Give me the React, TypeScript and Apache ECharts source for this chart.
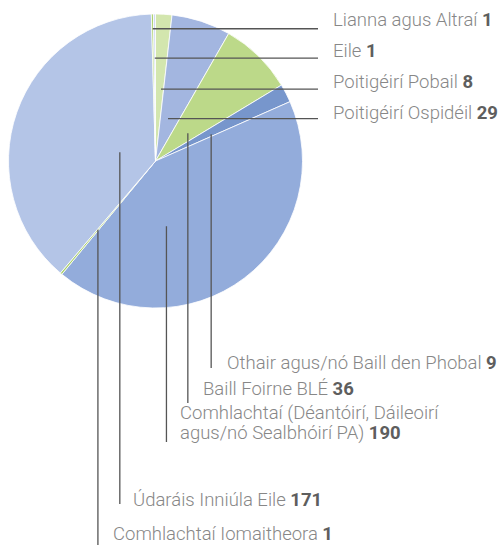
import React, { useEffect, useRef } from "react";
import * as echarts from "echarts";

// Data (clockwise from 12 o'clock)
const categories = [
  "Poitigéirí Pobail",
  "Poitigéirí Ospidéil",
  "Baill Foirne BLÉ",
  "Othair agus/nó Baill den Phobal",
  "Comhlachtaí (Déantóirí, Dáileoirí\nagus/nó Sealbhóirí PA)",
  "Comhlachtaí Iomaitheora",
  "Údaráis Inniúla Eile",
  "Lianna agus Altraí",
  "Eile",
];
const values = [8, 29, 36, 9, 190, 1, 171, 1, 1];

// Styling
const colors = [
  "#d3e6ae",
  "#a3b6e0",
  "#bcd989",
  "#7796cc",
  "#93acdb",
  "#a9d06b",
  "#b4c5e7",
  "#a9d06b",
  "#cfdaf0",
];

const CX = 155.5;
const CY = 161;
const R = 147;

// label layout: text anchor position, leader direction and end
const labelPos: [number, number][] = [
  [333, 82],
  [333, 113],
  [203, 389],
  [227, 363],
  [180, 423],
  [113, 534],
  [133, 500],
  [333, 20],
  [333, 51],
];
const lineDir = ["h", "h", "v", "v", "v", "v", "v", "h", "h"];
const lineEnd = [318, 318, 403, 368, 442, 545, 504, 318, 318];
// where the leader line starts inside each slice: [fraction of slice angle, fraction of radius]
const anchorAt: [number, number][] = [
  [0.68, 0.49],
  [0.43, 0.3],
  [0.67, 0.29],
  [0.75, 0.42],
  [0.68, 0.45],
  [0.5, 0.61],
  [0.46, 0.25],
  [0.5, 0.9],
  [0.5, 0.7],
];

export default function App() {
  const ref = useRef<HTMLDivElement>(null);

  useEffect(() => {
    if (!ref.current) return;
    const chart = echarts.init(ref.current, null, { renderer: "svg" });

    const total = values.reduce((a, b) => a + b, 0);
    let acc = 0;
    const anchors = values.map((v, i) => {
      const a0 = (acc / total) * 360;
      acc += v;
      const a1 = (acc / total) * 360;
      const th = ((a0 + (a1 - a0) * anchorAt[i][0]) * Math.PI) / 180;
      const r = R * anchorAt[i][1];
      return [CX + r * Math.sin(th), CY - r * Math.cos(th)];
    });

    const leaders = anchors.map(([ax, ay], i) => ({
      type: "line",
      silent: true,
      z: 100,
      shape:
        lineDir[i] === "h"
          ? { x1: ax, y1: ay, x2: lineEnd[i], y2: ay }
          : { x1: ax, y1: ay, x2: ax, y2: lineEnd[i] },
      style: { stroke: "#555555", lineWidth: 1.3 },
    }));

    chart.setOption({
      animation: false,
      graphic: leaders,
      series: [
        {
          type: "pie",
          center: [CX, CY],
          radius: R,
          startAngle: 90,
          clockwise: true,
          avoidLabelOverlap: false,
          silent: true,
          data: categories.map((name, i) => ({
            name,
            value: values[i],
            itemStyle: { color: colors[i] },
          })),
          itemStyle: { borderColor: "#ffffff", borderWidth: 0.8 },
          label: {
            show: true,
            position: "outside",
            formatter: (p: any) => {
              const parts = String(p.name).split("\n");
              return parts
                .map((s, k) => `{n|${s}}` + (k === parts.length - 1 ? `{n| }{v|${p.value}}` : ""))
                .join("\n");
            },
            rich: {
              n: {
                fontFamily: "Roboto",
                fontSize: 18.5,
                fontWeight: 300,
                color: "#878787",
                lineHeight: 20,
              },
              v: {
                fontFamily: "Roboto",
                fontSize: 18.5,
                fontWeight: "bold",
                color: "#5e5e5e",
                lineHeight: 20,
              },
            },
          },
          labelLine: { show: false },
          labelLayout: (params: any) => {
            const i = params.dataIndex;
            return {
              x: labelPos[i][0],
              y: labelPos[i][1],
              align: "left",
              verticalAlign: "middle",
            };
          },
          emphasis: { disabled: true },
        },
      ],
    });

    return () => chart.dispose();
  }, []);

  return (
    <div
      ref={ref}
      style={{ position: "absolute", left: 0, top: 0, width: 503, height: 545 }}
    />
  );
}
